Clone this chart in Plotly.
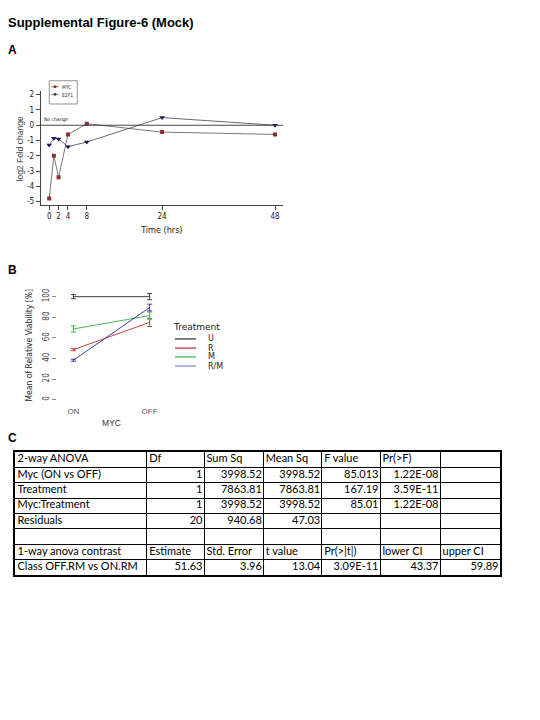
import plotly.graph_objects as go

# ---------------- Panel A data ----------------
time_hrs = [0, 1, 2, 4, 8, 24, 48]
myc_log2fc = [-4.8, -2.0, -3.4, -0.6, 0.1, -0.45, -0.6]
e2f1_log2fc = [-1.3, -0.85, -0.9, -1.4, -1.1, 0.5, 0.0]
a_xticks = [0, 2, 4, 8, 24, 48]
a_yticks = [2, 1, 0, -1, -2, -3, -4, -5]
a_series = ["MYC", "E2F1"]

# ---------------- Panel B data ----------------
myc_state = ["ON", "OFF"]
treatments = ["U", "R", "M", "R/M"]
u_mean = [100, 100]
u_err = [2, 3]
r_mean = [48.5, 75]
r_err = [1, 4]
m_mean = [68.6, 81.6]
m_err = [3, 3.5]
rm_mean = [38.3, 89.4]
rm_err = [1, 3.3]
b_yticks = [0, 20, 40, 60, 80, 100]

# ---------------- Panel C data (table columns) ----------------
col_label = ["2-way ANOVA", "Myc (ON vs OFF)", "Treatment", "Myc:Treatment", "Residuals", "",
             "1-way anova contrast", "Class OFF.RM vs ON.RM"]
col_df = ["Df", "1", "1", "1", "20", "", "Estimate", "51.63"]
col_sumsq = ["Sum Sq", "3998.52", "7863.81", "3998.52", "940.68", "", "Std. Error", "3.96"]
col_meansq = ["Mean Sq", "3998.52", "7863.81", "3998.52", "47.03", "", "t value", "13.04"]
col_fval = ["F value", "85.013", "167.19", "85.01", "", "", "Pr(>|t|)", "3.09E-11"]
col_pr = ["Pr(>F)", "1.22E-08", "3.59E-11", "1.22E-08", "", "", "lower CI", "43.37"]
col_last = ["", "", "", "", "", "", "upper CI", "59.89"]
header_rows = [0, 6]

W, H = 540, 720
NARROW = "Liberation Sans Narrow, DejaVu Sans Condensed, Arial Narrow, sans-serif"
SANS = "Liberation Sans, Arial, sans-serif"
WIDE = "DejaVu Sans, Liberation Sans, sans-serif"
COLW = [131.7, 57.3, 59.3, 58.4, 58.3, 60, 60]


def px(x):
    return x / W


def py(y):
    return 1 - y / H


fig = go.Figure()

# ---- Panel A traces ----
fig.add_trace(go.Scatter(
    x=time_hrs, y=myc_log2fc, mode="lines+markers", name=a_series[0],
    line=dict(color="#555555", width=0.8),
    marker=dict(symbol="square", size=4, color="#8b2f2f"),
    xaxis="x", yaxis="y", showlegend=False))
fig.add_trace(go.Scatter(
    x=time_hrs, y=e2f1_log2fc, mode="lines+markers", name=a_series[1],
    line=dict(color="#444444", width=0.8),
    marker=dict(symbol="triangle-down", size=5, color="#1c1c50"),
    xaxis="x", yaxis="y", showlegend=False))

# ---- Panel B traces ----
b_colors = ["#2b2b2b", "#c0302a", "#33b040", "#2a2a9a"]
b_legend_colors = ["#2b2b2b", "#c0302a", "#33b040", "#b0b0dc"]
b_means = [u_mean, r_mean, m_mean, rm_mean]
b_errs = [u_err, r_err, m_err, rm_err]
for name, col, mean, err in zip(treatments, b_colors, b_means, b_errs):
    fig.add_trace(go.Scatter(
        x=myc_state, y=mean, mode="lines", name=name,
        line=dict(color=col, width=0.9),
        error_y=dict(type="data", array=err, color=col, thickness=0.9, width=2.5),
        xaxis="x2", yaxis="y2", showlegend=False))

# ---- Panel C table (text on a grid axis) ----
columns = [col_label, col_df, col_sumsq, col_meansq, col_fval, col_pr, col_last]
bounds = [0.0]
for w in COLW:
    bounds.append(bounds[-1] + w)
tx, ty, tt, tp = [], [], [], []
for ci, col in enumerate(columns):
    for ri, val in enumerate(col):
        if val == "":
            continue
        left = (ci == 0) or (ri in header_rows)
        tx.append(bounds[ci] + 2.5 if left else bounds[ci + 1] - 1.5)
        ty.append(ri + 0.5)
        tt.append(val)
        tp.append("middle right" if left else "middle left")
fig.add_trace(go.Scatter(
    x=tx, y=ty, text=tt, mode="text", textposition=tp,
    textfont=dict(family="Lato, Liberation Sans, sans-serif", size=11, color="black"),
    xaxis="x3", yaxis="y3", showlegend=False, hoverinfo="skip"))

shapes = []
annotations = []

# horizontal "No change" reference line in panel A
shapes.append(dict(type="line", xref="x domain", yref="y", x0=0, x1=1, y0=0, y1=0,
                   line=dict(color="#333333", width=0.9)))
annotations.append(dict(xref="x domain", yref="y", x=0.005, y=0, text="No change",
                        showarrow=False, xanchor="left", yanchor="bottom",
                        font=dict(family=NARROW, size=5, color="#222222")))

# axis titles (y) placed as in the reference
annotations.append(dict(xref="paper", yref="paper", x=px(19.5), y=py(147),
                        text="log2 Fold change", textangle=-90, showarrow=False,
                        xanchor="center", yanchor="middle",
                        font=dict(family=SANS, size=8.5, color="#444444")))
annotations.append(dict(xref="paper", yref="paper", x=px(29), y=py(345),
                        text="Mean of Relative Viability [%]", textangle=-90, showarrow=False,
                        xanchor="center", yanchor="middle",
                        font=dict(family=NARROW, size=8.5, color="#222222")))

# Panel A legend (drawn)
shapes.append(dict(type="rect", xref="paper", yref="paper", x0=px(49.3), x1=px(77.3),
                   y0=py(101.7), y1=py(78.3), line=dict(color="#777777", width=0.8)))
for lab, yy, sym, mcol in [(a_series[0], 84.3, "sq", "#8b2f2f"), (a_series[1], 92.3, "tri", "#1c1c50")]:
    shapes.append(dict(type="line", xref="paper", yref="paper", x0=px(51.5), x1=px(58.5),
                       y0=py(yy), y1=py(yy), line=dict(color="#555555", width=0.8)))
    if sym == "sq":
        shapes.append(dict(type="rect", xref="paper", yref="paper", x0=px(53.7), x1=px(56.3),
                           y0=py(yy + 1.3), y1=py(yy - 1.3), fillcolor=mcol, line=dict(width=0)))
    else:
        path = "M {} {} L {} {} L {} {} Z".format(px(53.3), py(yy - 1.5), px(56.7), py(yy - 1.5),
                                                  px(55), py(yy + 1.7))
        shapes.append(dict(type="path", xref="paper", yref="paper", path=path,
                           fillcolor=mcol, line=dict(width=0)))
    annotations.append(dict(xref="paper", yref="paper", x=px(60), y=py(yy), text=lab,
                            showarrow=False, xanchor="left", yanchor="middle",
                            font=dict(family=NARROW, size=5, color="#333333")))

# Panel B legend (drawn)
annotations.append(dict(xref="paper", yref="paper", x=px(171), y=py(326.5), text="Treatment",
                        showarrow=False, xanchor="left", yanchor="middle",
                        font=dict(family=WIDE, size=9, color="#222222")))
for lab, col, yy in zip(treatments, b_legend_colors, [338.3, 347.5, 356.4, 365.6]):
    shapes.append(dict(type="line", xref="paper", yref="paper", x0=px(175), x1=px(196),
                       y0=py(yy), y1=py(yy),
                       line=dict(color=col, width=2 if lab == "R/M" else 1.2)))
    annotations.append(dict(xref="paper", yref="paper", x=px(205.5), y=py(yy), text=lab,
                            showarrow=False, xanchor="left", yanchor="middle",
                            font=dict(family=WIDE, size=8, color="#222222")))

# Figure title and panel letters
annotations.append(dict(xref="paper", yref="paper", x=px(6), y=py(20),
                        text="<b>Supplemental Figure-6 (Mock)</b>", showarrow=False,
                        xanchor="left", yanchor="middle",
                        font=dict(family=SANS, size=13, color="black")))
for letter, yy in [("A", 47), ("B", 269), ("C", 438)]:
    annotations.append(dict(xref="paper", yref="paper", x=px(6), y=py(yy),
                            text="<b>%s</b>" % letter, showarrow=False,
                            xanchor="left", yanchor="middle",
                            font=dict(family=SANS, size=12, color="black")))

fig.update_layout(
    width=W, height=H, autosize=False,
    margin=dict(l=0, r=0, t=0, b=0),
    paper_bgcolor="white", plot_bgcolor="white",
    showlegend=False,
    xaxis=dict(domain=[px(40.7), px(283)], range=[-1.8, 49.7], tickvals=a_xticks,
               ticks="outside", ticklen=4, tickcolor="#444444", tickwidth=0.8,
               showline=True, linecolor="#444444", linewidth=0.8,
               showgrid=False, zeroline=False,
               tickfont=dict(family=NARROW, size=8, color="#222222"),
               title=dict(text="Time (hrs)", standoff=6,
                          font=dict(family=NARROW, size=9, color="#222222"))),
    yaxis=dict(domain=[py(203.3), py(88.3)], range=[-5.21, 2.26], tickvals=a_yticks,
               ticktext=[str(v) for v in a_yticks],
               ticks="outside", ticklen=4, tickcolor="#444444", tickwidth=0.8,
               showline=True, linecolor="#444444", linewidth=0.8,
               showgrid=False, zeroline=False,
               tickfont=dict(family=NARROW, size=8, color="#222222")),
    xaxis2=dict(domain=[px(57), px(166)], range=[-0.215, 1.215], type="category",
                ticks="", showline=False, showgrid=False, zeroline=False,
                anchor="y2",
                tickfont=dict(family=SANS, size=8, color="#555555"),
                title=dict(text="MYC", standoff=4,
                           font=dict(family=SANS, size=8.5, color="#333333"))),
    yaxis2=dict(domain=[py(405), py(290)], range=[-5.4, 105.5], tickvals=b_yticks,
                tickangle=-90, ticks="outside", ticklen=4, tickcolor="#888888",
                showline=False, showgrid=False, zeroline=False, anchor="x2",
                tickfont=dict(family=NARROW, size=8, color="#444444")),
    xaxis3=dict(domain=[px(15), px(500)], range=[0, bounds[-1]], tickvals=bounds,
                showticklabels=False, ticks="", showgrid=True, gridcolor="black", gridwidth=1,
                zeroline=False, showline=True, mirror=True, linecolor="black", linewidth=2,
                anchor="y3", fixedrange=True),
    yaxis3=dict(domain=[py(576), py(452)], range=[len(col_label), 0],
                tickvals=list(range(len(col_label) + 1)),
                showticklabels=False, ticks="", showgrid=True, gridcolor="black", gridwidth=1,
                zeroline=False, showline=True, mirror=True, linecolor="black", linewidth=2,
                anchor="x3", fixedrange=True),
    shapes=shapes,
    annotations=annotations,
)

fig.write_html("out.html", config={"displayModeBar": False},
               post_script="document.body.style.margin='0px';")
